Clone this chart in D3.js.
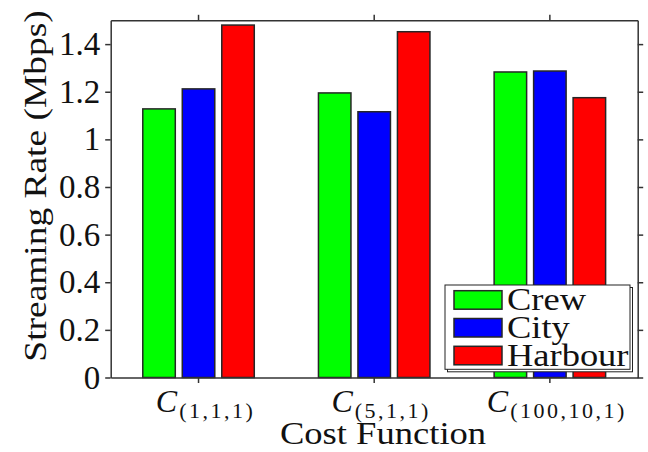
<!DOCTYPE html>
<html>
<head>
<meta charset="utf-8">
<script src="https://cdn.jsdelivr.net/npm/d3@7"></script>
<style>
  html, body { margin: 0; padding: 0; background: #fff; }
  svg { display: block; }
  text { font-family: "Liberation Serif", "DejaVu Serif", serif; fill: #111; }
</style>
</head>
<body>
<svg id="chart" width="648" height="452" font-family="Liberation Serif, DejaVu Serif, serif"></svg>
<script>
// Streaming rate per cost function, one bar per video sequence
const categories = ["(1,1,1)", "(5,1,1)", "(100,10,1)"];
const seriesNames = ["Crew", "City", "Harbour"];
const crew    = [1.128, 1.195, 1.283];
const city    = [1.212, 1.116, 1.287];
const harbour = [1.480, 1.452, 1.175];
const seriesColors = ["#00ff00", "#0000ff", "#ff0000"];
const yTicks = [0, 0.2, 0.4, 0.6, 0.8, 1, 1.2, 1.4];
const yTickLabels = ["0", "0.2", "0.4", "0.6", "0.8", "1", "1.2", "1.4"];
const xTitle = "Cost Function";
const yTitle = "Streaming Rate (Mbps)";

const seriesValues = [crew, city, harbour];
const rows = categories.map((c, i) => ({
  cat: c,
  vals: seriesNames.map((s, j) => ({ name: s, value: seriesValues[j][i], color: seriesColors[j] }))
}));

const svg = d3.select("#chart");
const plotLeft = 110.7, plotRight = 637.7, plotTop = 20.3, plotBottom = 377.5;
const axisColor = "#333";
const barStroke = "#262626";
const serif = "Liberation Serif, DejaVu Serif, serif";

const x0 = d3.scaleBand().domain(categories).range([plotLeft, plotRight]).padding(0);
const x1 = d3.scaleBand().domain(seriesNames).range([0, x0.bandwidth()])
  .paddingInner(0.177).paddingOuter(0.8125);
const y = d3.scaleLinear().domain([0, 1.5]).range([plotBottom, plotTop]);

// bars
const groups = svg.append("g").selectAll("g").data(rows).join("g")
  .attr("transform", d => `translate(${x0(d.cat)},0)`);
groups.selectAll("rect").data(d => d.vals).join("rect")
  .attr("x", d => x1(d.name))
  .attr("width", x1.bandwidth())
  .attr("y", d => y(d.value))
  .attr("height", d => y(0) - y(d.value))
  .attr("fill", d => d.color)
  .attr("stroke", barStroke)
  .attr("stroke-width", 1.5);

// axes frame (ticks outward on all four sides)
function styleAxis(g) {
  g.selectAll("path.domain").attr("stroke", axisColor).attr("stroke-width", 1.5);
  g.selectAll(".tick line").attr("stroke", axisColor).attr("stroke-width", 1.5);
  g.selectAll(".tick text").remove();
}
const yAxisL = d3.axisLeft(y).tickValues(yTicks).tickSize(5.5).tickSizeOuter(0);
const yAxisR = d3.axisRight(y).tickValues(yTicks).tickSize(5.5).tickSizeOuter(0);
const xAxisB = d3.axisBottom(x0).tickSize(5.5).tickSizeOuter(0);
const xAxisT = d3.axisTop(x0).tickSize(5.5).tickSizeOuter(0);

svg.append("g").attr("transform", `translate(${plotLeft},0)`).call(yAxisL).call(styleAxis);
svg.append("g").attr("transform", `translate(${plotRight},0)`).call(yAxisR).call(styleAxis);
svg.append("g").attr("transform", `translate(0,${plotBottom})`).call(xAxisB).call(styleAxis);
svg.append("g").attr("transform", `translate(0,${plotTop})`).call(xAxisT).call(styleAxis);

// y tick labels
svg.append("g").selectAll("text").data(yTicks).join("text")
  .attr("x", plotLeft - 10.5)
  .attr("y", d => y(d) + 11)
  .attr("text-anchor", "end")
  .attr("font-family", serif)
  .attr("font-size", 33)
  .text((d, i) => yTickLabels[i]);

// x tick labels: italic C with a parenthesised subscript
const xl = svg.append("g").selectAll("text").data(categories).join("text")
  .attr("x", d => x0(d) + x0.bandwidth() / 2 + 7)
  .attr("y", 411.7)
  .attr("font-family", serif)
  .attr("text-anchor", "middle");
xl.append("tspan").attr("font-style", "italic").attr("font-size", 32).text("C");
xl.append("tspan").attr("font-size", 22).attr("dy", 6).attr("dx", 2)
  .attr("letter-spacing", 2.5).text(d => d);

// axis titles (serif text widened to the look of Computer Modern)
svg.append("text")
  .attr("transform", "translate(383,443.5) scale(1.18,1)")
  .attr("text-anchor", "middle")
  .attr("font-family", serif)
  .attr("font-size", 31)
  .text(xTitle);

svg.append("text")
  .attr("transform", "translate(46,186) rotate(-90) scale(1.17,1)")
  .attr("text-anchor", "middle")
  .attr("font-family", serif)
  .attr("font-size", 32)
  .text(yTitle);

// legend
const lg = svg.append("g");
const lgX = 445, lgY = 285, lgW = 185, lgH = 84.3, rowH = 27.8;
lg.append("rect").attr("x", lgX + 2.5).attr("y", lgY + 2.5).attr("width", lgW).attr("height", lgH)
  .attr("fill", "#fff").attr("stroke", "#222").attr("stroke-width", 1);
lg.append("rect").attr("x", lgX).attr("y", lgY).attr("width", lgW).attr("height", lgH)
  .attr("fill", "#fff").attr("stroke", "#222").attr("stroke-width", 1);
const items = lg.selectAll("g.item").data(seriesNames).join("g").attr("class", "item")
  .attr("transform", (d, i) => `translate(${lgX},${lgY + 5.7 + i * rowH})`);
items.append("rect")
  .attr("x", 9).attr("y", 0).attr("width", 48).attr("height", 18.5)
  .attr("fill", (d, i) => seriesColors[i])
  .attr("stroke", barStroke).attr("stroke-width", 1.5);
items.append("text")
  .attr("transform", "translate(62,19.5) scale(1.14,1)")
  .attr("font-family", serif)
  .attr("font-size", 32)
  .text(d => d);
</script>
</body>
</html>
